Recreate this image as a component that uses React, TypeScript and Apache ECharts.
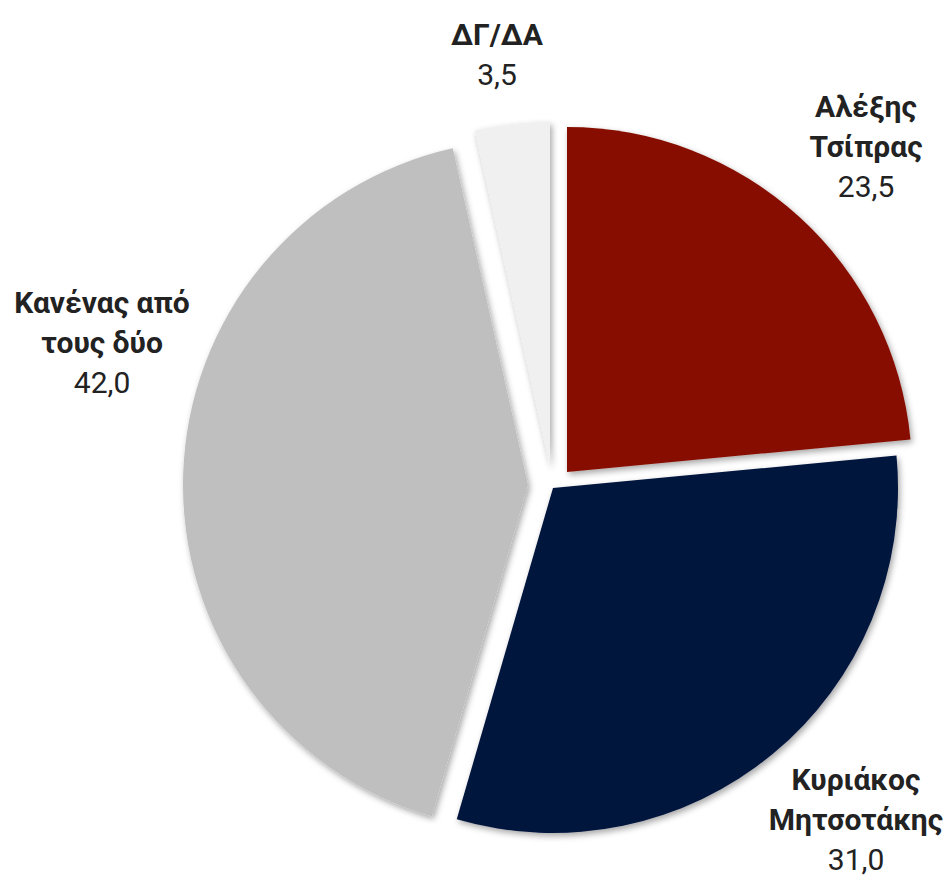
import React, { useEffect, useRef } from "react";
import * as echarts from "echarts";

const names = ["Αλέξης\nΤσίπρας", "Κυριάκος\nΜητσοτάκης", "Κανένας από\nτους δύο", "ΔΓ/ΔΑ"];
const values = [23.5, 31.0, 42.0, 3.5];
const colors = ["#861001", "#01143C", "#BFBFBF", "#F0F0F0"];

// layout (exploded slice centres and label anchors, px)
const sliceCenters = [
  [567, 472],
  [553, 488],
  [528, 485],
  [550, 467],
];
const labelAnchors = [
  [866, 146],
  [856, 819],
  [102, 342],
  [497, 54],
];
const RADIUS = 345;
const FONT = "Roboto, 'Liberation Sans Narrow', sans-serif";

export default function App() {
  const ref = useRef<HTMLDivElement>(null);
  useEffect(() => {
    document.body.style.margin = "0";
    if (!ref.current) return;
    const chart = echarts.init(ref.current, undefined, { renderer: "svg" });
    const series = values.map((_, si) => ({
      type: "pie",
      center: sliceCenters[si],
      radius: RADIUS,
      startAngle: 90,
      clockwise: true,
      silent: true,
      emphasis: { disabled: true },
      labelLine: { show: false },
      avoidLabelOverlap: false,
      labelLayout: () => ({
        x: labelAnchors[si][0],
        y: labelAnchors[si][1],
        align: "center",
        verticalAlign: "middle",
      }),
      data: values.map((v, i) => ({
        name: names[i],
        value: v,
        itemStyle:
          i === si
            ? {
                color: colors[i],
                shadowBlur: 6,
                shadowOffsetX: 2,
                shadowOffsetY: 3,
                shadowColor: "rgba(0,0,0,0.35)",
              }
            : { color: "rgba(0,0,0,0)" },
        label:
          i === si
            ? {
                show: true,
                position: "outside",
                overflow: "none",
                width: 300,
                formatter: () =>
                  `{b|${names[i]}}\n{v|${v.toFixed(1).replace(".", ",")}}`,
                rich: {
                  b: {
                    fontFamily: FONT,
                    fontSize: 30,
                    fontWeight: "bold",
                    lineHeight: 40,
                    color: "#222222",
                    align: "center",
                  },
                  v: {
                    fontFamily: FONT,
                    fontSize: 30,
                    fontWeight: "normal",
                    lineHeight: 40,
                    color: "#222222",
                    align: "center",
                  },
                },
              }
            : { show: false },
      })),
    }));
    chart.setOption({
      animation: false,
      backgroundColor: "#ffffff",
      series,
    });
    return () => chart.dispose();
  }, []);
  return <div ref={ref} style={{ width: 945, height: 876 }} />;
}
